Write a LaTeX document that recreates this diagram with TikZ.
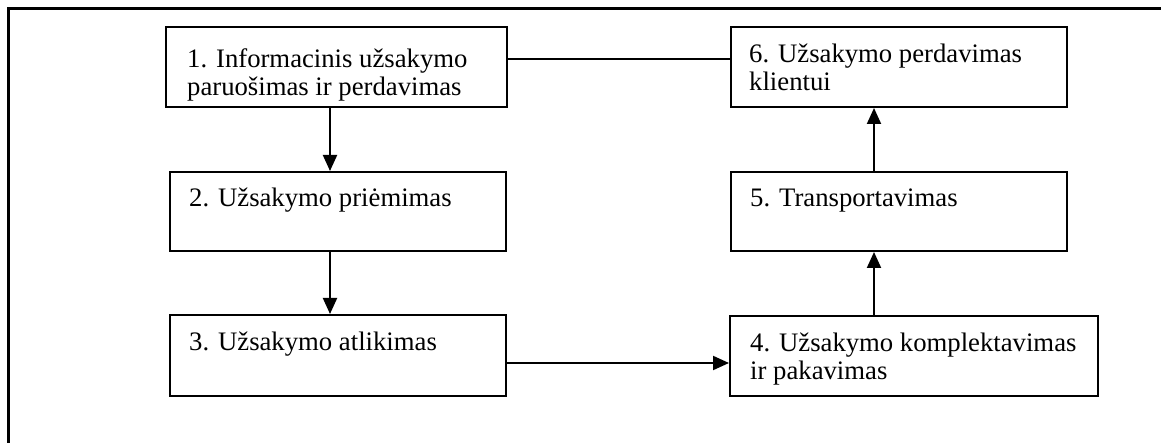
\documentclass[tikz,border=0pt]{standalone}
\usepackage{fontspec}
\setmainfont{Liberation Serif}
\usetikzlibrary{arrows.meta}
\begin{document}
\begin{tikzpicture}[x=1pt,y=-1pt,
  stagebox/.style={draw=black, line width=2pt, rectangle, inner sep=0pt},
  stagetext/.style={anchor=base west, inner sep=0pt, align=left,
    font=\fontsize{26.7}{28}\selectfont},
  flow/.style={line width=2pt, -{Triangle[length=16pt,width=14pt]}},
  link/.style={line width=2pt},
  frame/.style={line width=3pt}]
  \useasboundingbox (0,0) rectangle (1161,443);

  % enclosing frame (left and top edges)
  \coordinate (fbl) at (8,445);
  \coordinate (fc) at (8,9);
  \coordinate (ftr) at (1163,9);
  \draw[frame] (fbl) -- (fc) -- (ftr);

  % stage boxes
  \node[stagebox, minimum width=341pt, minimum height=80pt] (b1) at (336.5,67) {};
  \node[stagebox, minimum width=336pt, minimum height=79pt] (b2) at (338,211.5) {};
  \node[stagebox, minimum width=336pt, minimum height=81pt] (b3) at (338,355.5) {};
  \node[stagebox, minimum width=368pt, minimum height=80pt] (b4) at (914,356) {};
  \node[stagebox, minimum width=336pt, minimum height=79pt] (b5) at (899,211.5) {};
  \node[stagebox, minimum width=336pt, minimum height=80pt] (b6) at (899,67) {};

  % stage labels (two-line labels are placed by the baseline of their last line)
  \node[stagetext] (t1) at ([xshift=22pt,yshift=-70pt]b1.north west)
    {1. Informacinis užsakymo\\paruošimas ir perdavimas};
  \node[stagetext] (t2) at ([xshift=20pt,yshift=-36pt]b2.north west)
    {2. Užsakymo priėmimas};
  \node[stagetext] (t3) at ([xshift=20pt,yshift=-36pt]b3.north west)
    {3. Užsakymo atlikimas};
  \node[stagetext] (t4) at ([xshift=21pt,yshift=-64pt]b4.north west)
    {4. Užsakymo komplektavimas\\ir pakavimas};
  \node[stagetext] (t5) at ([xshift=20pt,yshift=-36pt]b5.north west)
    {5. Transportavimas};
  \node[stagetext] (t6) at ([xshift=19pt,yshift=-65pt]b6.north west)
    {6. Užsakymo perdavimas\\klientui};

  % connector guide positions
  \coordinate (colL) at (330,0);
  \coordinate (colR) at (874,0);
  \coordinate (rowT) at (0,59);
  \coordinate (rowB) at (0,363);

  % connectors
  \draw[link] (b1.east |- rowT) -- (b6.west |- rowT);
  \draw[flow] (b1.south -| colL) -- (b2.north -| colL);
  \draw[flow] (b2.south -| colL) -- (b3.north -| colL);
  \draw[flow] (b3.east |- rowB) -- (b4.west |- rowB);
  \draw[flow] (b4.north -| colR) -- (b5.south -| colR);
  \draw[flow] (b5.north -| colR) -- (b6.south -| colR);
\end{tikzpicture}
\end{document}
